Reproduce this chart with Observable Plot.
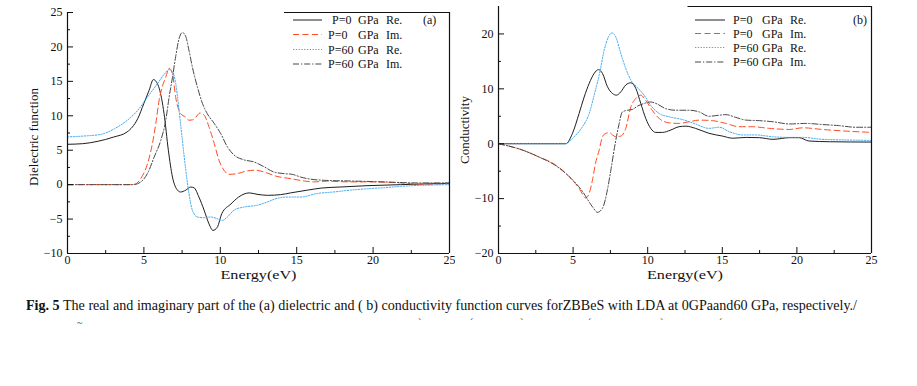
<!DOCTYPE html>
<html>
<head>
<meta charset="utf-8">
<script src="https://cdn.jsdelivr.net/npm/d3@7"></script>
<script src="https://cdn.jsdelivr.net/npm/@observablehq/plot@0.6"></script>
<style>
  html, body { margin: 0; padding: 0; background: #fff; }
  #wrap { position: relative; width: 917px; height: 386px; overflow: hidden; background: #fff; font-family: "Liberation Serif", "Times New Roman", "DejaVu Serif", serif; }
  .panel { position: absolute; top: 0; overflow: hidden; }
  #overlay { position: absolute; left: 0; top: 0; }
  svg text { font-family: "Liberation Serif", "Times New Roman", "DejaVu Serif", serif; }
</style>
</head>
<body>
<div id="wrap">
  <div id="pa" class="panel" style="left:0px;width:455px;height:285px"></div>
  <div id="pb" class="panel" style="left:455px;width:462px;height:285px"></div>
  <svg id="overlay" width="917" height="386"></svg>
</div>
<script>
// ---------- Data ----------
const xTicks = [0, 5, 10, 15, 20, 25];
const xMinor = [2.5, 7.5, 12.5, 17.5, 22.5];
const yTicksA = [-10, -5, 0, 5, 10, 15, 20, 25];
const yMinorA = [-7.5, -2.5, 2.5, 7.5, 12.5, 17.5, 22.5];
const yTicksB = [-20, -10, 0, 10, 20];
const yMinorB = [-15, -5, 5, 15];

const seriesNames = ["P=0  GPa Re.", "P=0  GPa Im.", "P=60 GPa Re.", "P=60 GPa Im."];

// (a) Dielectric function: [energy eV, value]
const dielP0Re = [[0,5.86],[1,5.95],[2,6.3],[3,6.9],[3.9,7.65],[4.6,9.6],[5.0,11.8],[5.34,13.7],[5.62,15.26],[5.85,14.8],[6.0,14.0],[6.32,10.3],[6.6,5],[6.87,1.1],[7.2,-0.8],[7.4,-1.07],[7.74,-0.8],[8.06,-0.35],[8.28,-0.45],[8.6,-1.8],[8.94,-3.7],[9.26,-5.7],[9.52,-6.64],[9.8,-6.2],[10.1,-4.2],[10.7,-2.8],[11.2,-1.8],[11.9,-1.2],[12.4,-1.4],[13.1,-1.55],[13.95,-1.45],[14.6,-1.2],[15.7,-0.8],[16.6,-0.5],[17.9,-0.34],[19.6,-0.15],[21.8,0],[25,0.2]];
const dielP0Im = [[0,0],[4.0,0],[4.36,0.05],[4.8,0.9],[5.23,3],[5.56,6],[5.78,8.9],[6.0,12.3],[6.2,14.2],[6.43,15.6],[6.65,16.9],[6.87,16.1],[7.08,12.7],[7.41,10.3],[7.74,9.8],[7.95,9.35],[8.17,9.4],[8.4,9.8],[8.67,10.4],[8.94,10.1],[9.26,8.4],[9.6,6],[9.92,3.5],[10.24,2.1],[10.57,1.5],[11.1,1.6],[11.77,2.0],[12.3,2.1],[12.86,1.84],[13.7,1.2],[14.6,0.87],[15.5,0.53],[16.1,0.4],[17,0.5],[18.5,0.4],[19.6,0.4],[21.8,0.25],[23.1,0.05],[25,0.15]];
const dielP60Re = [[0,6.93],[1,7.05],[2.18,7.3],[3.05,8.1],[3.92,9.35],[4.6,10.8],[5.23,12.7],[5.9,14.7],[6.32,16],[6.65,16.7],[6.87,16.4],[7.08,14.7],[7.3,10.8],[7.52,6.4],[7.74,2.1],[7.95,-1.3],[8.17,-3.7],[8.5,-4.7],[8.94,-4.8],[9.37,-4.7],[9.8,-4.94],[10.13,-5.2],[10.46,-4.7],[10.9,-3.7],[11.55,-3.25],[12.4,-3],[13.1,-2.5],[13.7,-2.0],[14.4,-1.8],[15.26,-1.8],[16.3,-1.3],[17.4,-1.07],[18.5,-0.8],[19.6,-0.6],[20.7,-0.45],[21.8,-0.25],[25,0]];
const dielP60Im = [[0,0],[4.3,0],[4.8,0.4],[5.23,1.6],[5.67,4],[6.1,6.4],[6.43,9.35],[6.65,12.7],[6.87,15.6],[7.08,18.6],[7.3,21.2],[7.52,22.1],[7.74,21.5],[7.95,19.5],[8.17,17.1],[8.5,14.2],[8.83,11.8],[9.15,10.3],[9.6,8.9],[10.03,7.4],[10.46,5.5],[10.9,4.3],[11.55,3.6],[12.2,3.3],[12.86,2.6],[13.5,1.84],[14.17,1.6],[14.7,1.5],[15.26,1.1],[15.9,0.8],[16.8,0.63],[18.5,0.53],[20.7,0.4],[22.9,0.25],[25,0.25]];

// (b) Conductivity: [energy eV, value]
const condP0Re = [[0,0],[4.51,0],[4.96,1.9],[5.4,5.5],[5.74,8.5],[6.08,11],[6.41,12.8],[6.7,13.5],[6.97,12.8],[7.3,10.4],[7.64,9.15],[7.9,8.85],[8.2,9.45],[8.53,10.7],[8.87,11.1],[9.2,10.1],[9.54,7.3],[9.87,4.6],[10.2,2.8],[10.54,2.06],[10.99,2.06],[11.55,2.5],[12.1,3.1],[12.56,3.2],[13.2,2.8],[14.1,1.9],[15.0,1.4],[15.7,1.0],[16.6,1.15],[17.5,1.1],[18.4,0.8],[19.5,1.1],[20.15,1.1],[20.8,0.5],[22.2,0.36],[25,0.3]];
const condP0Im = [[0,0],[1.6,-1.15],[2.7,-2.4],[3.84,-3.9],[4.74,-6],[5.4,-8.1],[5.85,-9.9],[6.08,-9.0],[6.3,-6.6],[6.5,-3.6],[6.75,-1.15],[6.97,1.27],[7.2,1.9],[7.46,2.0],[7.64,1.6],[7.86,1.27],[8.2,1.4],[8.53,2.8],[8.87,6.7],[9.2,8.25],[9.54,8.85],[9.87,7.9],[10.3,6.1],[10.77,4.6],[11.44,3.8],[12.1,3.7],[12.78,4.0],[13.45,4.3],[14.34,4.2],[15.24,3.7],[16.1,3.1],[17.0,3.1],[18.14,2.8],[19.5,2.6],[20.4,2.9],[21.7,2.6],[23.3,2.3],[25,2.06]];
const condP60Re = [[0,0],[4.5,0],[4.96,1],[5.63,3.1],[6.08,5.5],[6.41,8.85],[6.75,12.5],[7.08,17],[7.37,19.45],[7.6,20.2],[7.86,19.45],[8.2,16.4],[8.53,13.7],[8.87,11.6],[9.32,10.2],[9.76,8.85],[10.2,7.0],[10.77,5.5],[11.44,4.9],[12.33,4.4],[13.2,3.6],[14.1,2.8],[14.8,3.0],[15.46,2.2],[16.35,1.6],[17.25,1.6],[18.37,1.27],[19.5,1.15],[20.4,1.15],[21.7,0.8],[23.5,0.67],[25,0.6]];
const condP60Im = [[0,0],[1.6,-1.15],[2.7,-2.4],[3.84,-4.0],[4.74,-6],[5.63,-8.7],[6.3,-11.5],[6.63,-12.5],[6.97,-11.75],[7.3,-8.4],[7.53,-4.8],[7.82,0],[8.09,3.7],[8.3,5.8],[8.65,6.1],[8.98,6.25],[9.32,6.85],[9.76,7.33],[10.2,7.6],[10.66,7.2],[11.2,6.4],[11.9,6.1],[12.78,6.1],[13.45,5.8],[14.1,5.0],[14.8,5.2],[15.24,5.3],[15.9,4.8],[16.6,4.3],[17.5,4.2],[18.4,4.0],[19.5,3.6],[20.6,3.7],[21.7,3.5],[22.8,3.3],[23.95,3.0],[25,3.0]];

// ---------- Styles ----------
const styles = [
  {stroke: "#1e1e1e", dash: null},
  {stroke: "#ff4a22", dash: "6,3.5"},
  {stroke: "#3aa8f2", dash: "1.3,1.5"},
  {stroke: "#474747", dash: "6,2,1.2,2"}
];
const FONT = '"Liberation Serif", "Times New Roman", "DejaVu Serif", serif';

function panel({series, yDomain, yTicks, yMinor, width, height, mt, mb, ml, mr, ylabel, topRuleFrom, ylabelDy}) {
  const fh = height - mt - mb;
  const fw = width - ml - mr;
  const marks = [];
  series.forEach((s, i) => {
    marks.push(Plot.line(s, {x: d => d[0], y: d => d[1], stroke: styles[i].stroke, strokeDasharray: styles[i].dash, strokeWidth: 1, curve: "monotone-x"}));
  });
  marks.push(
    Plot.ruleX([0], {y1: yDomain[0], y2: yDomain[1], stroke: "#111", strokeWidth: 1.2}),
    Plot.ruleX([25], {y1: yDomain[0], y2: yDomain[1], stroke: "#111", strokeWidth: 1.2}),
    Plot.ruleY([yDomain[0]], {x1: 0, x2: 25, stroke: "#111", strokeWidth: 1.2}),
    Plot.ruleY([yDomain[1]], {x1: topRuleFrom, x2: 25, stroke: "#111", strokeWidth: 1}),
    Plot.tickX(xTicks, {x: d => d, insetTop: fh - 6, stroke: "#111"}),
    Plot.tickX(xMinor, {x: d => d, insetTop: fh - 3, stroke: "#111"}),
    Plot.tickY(yTicks, {y: d => d, insetRight: fw - 6, stroke: "#111"}),
    Plot.tickY(yMinor, {y: d => d, insetRight: fw - 3, stroke: "#111"}),
    Plot.axisX({ticks: xTicks, tickSize: 0, tickPadding: 2, label: null, fontSize: 12, fontFamily: FONT}),
    Plot.axisY({ticks: yTicks, tickSize: 0, tickPadding: 5, label: null, fontSize: 12, fontFamily: FONT}),
    Plot.text(["Energy(eV)"], {frameAnchor: "bottom", dy: 21, lineAnchor: "middle", textAnchor: "middle", fontSize: 13, fontFamily: FONT, fill: "#111"}),
    Plot.text([ylabel], {frameAnchor: "left", dx: -34, dy: ylabelDy, rotate: -90, textAnchor: "middle", lineAnchor: "middle", fontSize: 13, fontFamily: FONT, fill: "#111"})
  );
  const chart = Plot.plot({
    width, height,
    marginTop: mt, marginBottom: mb, marginLeft: ml, marginRight: mr,
    x: {domain: [0, 25], axis: null},
    y: {domain: yDomain, axis: null},
    style: {fontFamily: FONT, fontSize: "12px", color: "#111", background: "transparent", overflow: "visible"},
    marks
  });
  // the x-axis title is drawn wide in the reference
  d3.select(chart).selectAll("text").filter(function () { return this.textContent === "Energy(eV)"; })
    .attr("textLength", 76).attr("lengthAdjust", "spacingAndGlyphs");
  return chart;
}

const pa = panel({
  series: [dielP0Re, dielP0Im, dielP60Re, dielP60Im],
  yDomain: [-10, 25], yTicks: yTicksA, yMinor: yMinorA,
  width: 455, height: 285, mt: 12, mb: 32, ml: 67, mr: 6,
  ylabel: "Dielectric function", topRuleFrom: 14.2, ylabelDy: 4
});
document.getElementById("pa").appendChild(pa);

const pb = panel({
  series: [condP0Re, condP0Im, condP60Re, condP60Im],
  yDomain: [-20, 25], yTicks: yTicksB, yMinor: yMinorB,
  width: 462, height: 285, mt: 6, mb: 32, ml: 43, mr: 46,
  ylabel: "Conductivity", topRuleFrom: 12.7, ylabelDy: 0
});
document.getElementById("pb").appendChild(pb);

// ---------- Legends, caption ----------
const ov = d3.select("#overlay").attr("font-family", FONT);

function legend(lineX1, lineX2, rows, textParts, tag, tagX) {
  rows.forEach((y, i) => {
    ov.append("line").attr("x1", lineX1).attr("x2", lineX2).attr("y1", y).attr("y2", y)
      .attr("stroke", styles[i].stroke).attr("stroke-width", 1)
      .attr("stroke-dasharray", styles[i].dash);
    const parts = seriesNames[i].split(/\s+/);
    parts.forEach((p, j) => {
      ov.append("text").attr("x", textParts[i][j]).attr("y", y + 4)
        .attr("font-size", 12).attr("fill", "#111").text(p);
    });
  });
  ov.append("text").attr("x", tagX).attr("y", rows[0] + 4).attr("font-size", 12).attr("fill", "#111").text(tag);
}
legend(293, 322, [20, 34.5, 49.5, 64],
  [[332, 358, 386], [328, 358, 386], [328, 358, 386], [328, 358, 386]], "(a)", 423);
legend(695, 725, [20, 33.5, 47.5, 62],
  [[733, 762, 790], [733, 762, 790], [733, 762, 790], [733, 762, 790]], "(b)", 853);

const cap = ov.append("text").attr("x", 26).attr("y", 310).attr("font-size", 15).attr("fill", "#111")
  .attr("textLength", 831).attr("lengthAdjust", "spacingAndGlyphs");
cap.append("tspan").attr("font-weight", "bold").text("Fig. 5");
cap.append("tspan").text(" The real and imaginary part of the (a) dielectric and ( b) conductivity function curves forZBBeS with LDA at 0GPaand60 GPa, respectively./");

const marks = [[77, "~"], [418, "`"], [470, "´"], [520, "`"], [588, "´"], [660, "`"], [719, "´"]];
marks.forEach(([x, c]) => ov.append("text").attr("x", x).attr("y", 326).attr("font-size", 10).attr("fill", "#333").text(c));
</script>
</body>
</html>
